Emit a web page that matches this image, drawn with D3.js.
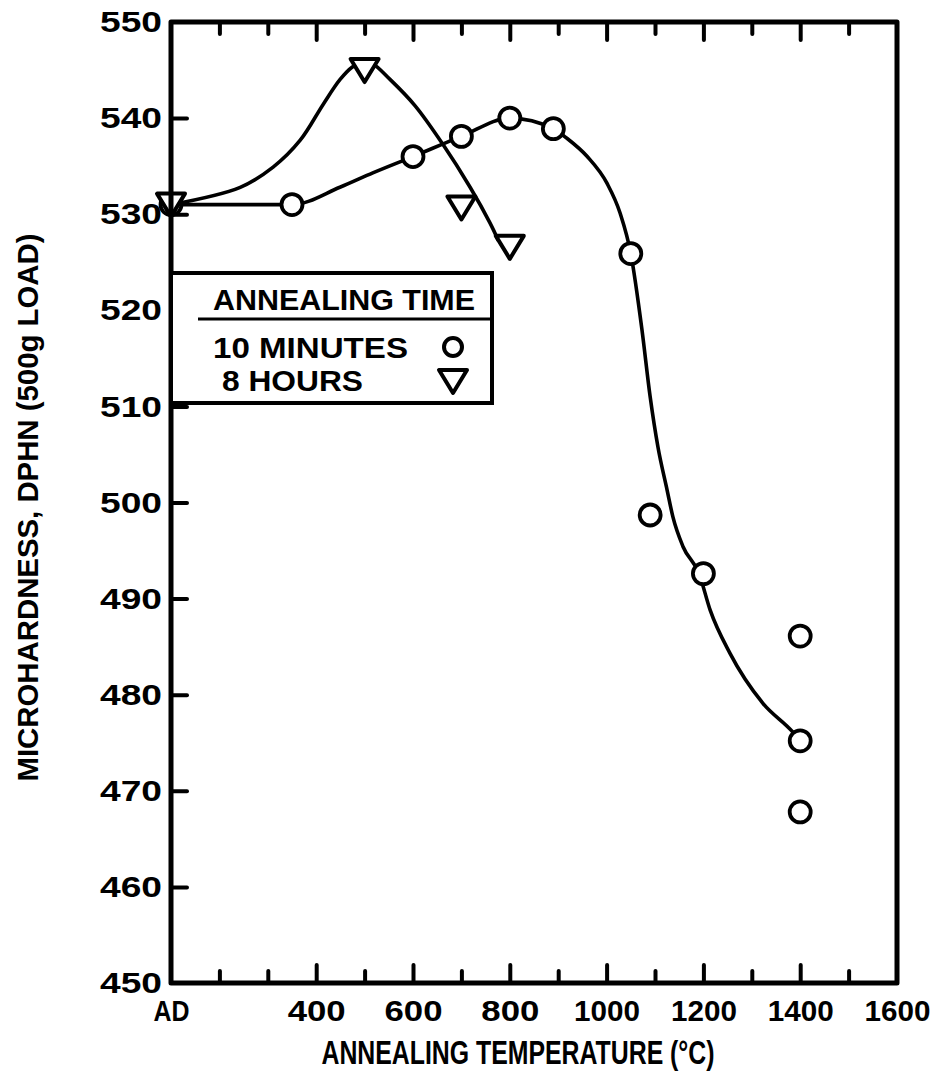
<!DOCTYPE html>
<html>
<head>
<meta charset="utf-8">
<script src="https://cdn.jsdelivr.net/npm/d3@7"></script>
<style>
  html, body { margin: 0; padding: 0; background: #fff; }
  svg text { font-family: "Liberation Sans", Arial, sans-serif; font-weight: bold; fill: #000; }
</style>
</head>
<body>
<svg id="chart" width="936" height="1088"></svg>
<script>
// Measured microhardness, 10-minute anneals (100 on the temperature axis = as-deposited, "AD")
const tempsMinutes = [100, 350, 600, 700, 800, 890, 1050, 1090, 1200, 1400, 1400, 1400];
const hardMinutes  = [531, 531, 536, 538.1, 540, 538.9, 525.9, 498.7, 492.6, 486.1, 475.2, 467.8];

// Measured microhardness, 8-hour anneals
const tempsHours = [100, 500, 700, 800];
const hardHours  = [531, 545, 530.7, 526.6];

// Hand-faired trend curve through the 10-minute data
const fitTempsMinutes = [100, 350, 449, 517, 600, 700, 800, 890, 918, 960, 1001, 1028, 1050, 1073, 1090, 1106, 1125, 1137, 1158, 1191, 1214, 1255, 1323, 1385, 1400];
const fitHardMinutes  = [531, 531, 532.8, 534.3, 536, 538.1, 540, 538.9, 537.9, 536, 533.2, 530.1, 525.9, 518, 511, 505.8, 501.3, 498.5, 495.4, 492.6, 488.8, 484.3, 479.1, 476.1, 475.2];

// Hand-faired trend curve through the 8-hour data
const fitTempsHours = [100, 243, 311, 367, 414, 449, 474, 495, 515, 553, 604, 660, 718, 759, 776];
const fitHardHours  = [531, 532.8, 534.9, 537.7, 541.4, 544.0, 545.3, 545.8, 545.7, 544.0, 541.3, 537.4, 532.8, 529.1, 527.3];

// Axis ticks and labels
const xLabelValues = [100, 400, 600, 800, 1000, 1200, 1400, 1600];
const xLabelText   = ["AD", "400", "600", "800", "1000", "1200", "1400", "1600"];
const xMajorTicks  = [400, 600, 800, 1000, 1200, 1400];
const xMinorTicks  = [200, 300, 500, 700, 900, 1100, 1300, 1500];
const yLabelValues = [450, 460, 470, 480, 490, 500, 510, 520, 530, 540, 550];
const yTickValues  = [460, 470, 480, 490, 500, 510, 520, 530, 540];

const xTitle = "ANNEALING TEMPERATURE (\u00B0C)";
const yTitle = "MICROHARDNESS, DPHN (500g LOAD)";
const legendTitle  = "ANNEALING TIME";
const legendLabels = ["10 MINUTES", "8 HOURS"];

const svg = d3.select("#chart");

const x = d3.scaleLinear().domain([100, 1600]).range([171, 897]);
const y = d3.scaleLinear().domain([450, 550]).range([983, 22]);

const INK = "#000";

function styleAxis(g, tickWidth) {
  g.select(".domain").remove();
  g.selectAll(".tick line").attr("stroke", INK).attr("stroke-width", tickWidth).attr("stroke-linecap", "round");
}

// --- tick marks (pointing into the plot) ---
svg.append("g").attr("transform", `translate(0,${y(450)})`)
  .call(d3.axisBottom(x).tickValues(xMajorTicks).tickSize(-18).tickFormat(""))
  .call(styleAxis, 4);
svg.append("g").attr("transform", `translate(0,${y(450)})`)
  .call(d3.axisBottom(x).tickValues(xMinorTicks).tickSize(-12).tickFormat(""))
  .call(styleAxis, 4);
svg.append("g").attr("transform", `translate(0,${y(550)})`)
  .call(d3.axisTop(x).tickValues(xMajorTicks).tickSize(-18).tickFormat(""))
  .call(styleAxis, 4);
svg.append("g").attr("transform", `translate(0,${y(550)})`)
  .call(d3.axisTop(x).tickValues(xMinorTicks).tickSize(-12).tickFormat(""))
  .call(styleAxis, 4);
svg.append("g").attr("transform", `translate(${x(100)},0)`)
  .call(d3.axisLeft(y).tickValues(yTickValues).tickSize(-16).tickFormat(""))
  .call(styleAxis, 4);

// --- tick labels ---
const xLab = svg.append("g").attr("transform", `translate(0,${y(450)})`)
  .call(d3.axisBottom(x).tickValues(xLabelValues).tickSize(0).tickPadding(17)
    .tickFormat((d, i) => xLabelText[i]));
xLab.select(".domain").remove();
xLab.selectAll("text")
  .attr("font-size", 30).attr("font-family", null)
  .attr("textLength", (d, i) => xLabelText[i] === "AD" ? 36 : (xLabelText[i].length === 4 ? 66 : 58))
  .attr("lengthAdjust", "spacingAndGlyphs");

const yLab = svg.append("g").attr("transform", `translate(${x(100)},0)`)
  .call(d3.axisLeft(y).tickValues(yLabelValues).tickSize(0).tickPadding(9));
yLab.select(".domain").remove();
yLab.selectAll("text")
  .attr("font-size", 30).attr("font-family", null)
  .attr("textLength", 62).attr("lengthAdjust", "spacingAndGlyphs");

// --- axis titles ---
svg.append("text")
  .attr("x", 518).attr("y", 1064)
  .attr("text-anchor", "middle").attr("font-size", 34)
  .attr("textLength", 393).attr("lengthAdjust", "spacingAndGlyphs")
  .text(xTitle);

svg.append("text")
  .attr("transform", `translate(38,${(y(450) + y(550)) / 2 + 5}) rotate(-90)`)
  .attr("text-anchor", "middle").attr("font-size", 29)
  .attr("textLength", 548).attr("lengthAdjust", "spacingAndGlyphs")
  .text(yTitle);

// --- trend curves ---
const lineMinutes = d3.line()
  .x(d => x(d[0])).y(d => y(d[1]))
  .curve(d3.curveMonotoneX);
const lineHours = d3.line()
  .x(d => x(d[0])).y(d => y(d[1]))
  .curve(d3.curveCatmullRom.alpha(0.5));

const fitMinutes = d3.zip(fitTempsMinutes, fitHardMinutes);
const fitHours   = d3.zip(fitTempsHours, fitHardHours);

svg.append("path").datum(fitMinutes).attr("d", lineMinutes)
  .attr("fill", "none").attr("stroke", INK).attr("stroke-width", 3.6)
  .attr("stroke-linecap", "round").attr("stroke-linejoin", "round");
svg.append("path").datum(fitHours).attr("d", lineHours)
  .attr("fill", "none").attr("stroke", INK).attr("stroke-width", 3.6)
  .attr("stroke-linecap", "round").attr("stroke-linejoin", "round");

// --- markers ---
const triPath = "M-14,-11L14,-11L0,12Z";

svg.append("g").selectAll("circle")
  .data(d3.zip(tempsMinutes, hardMinutes))
  .join("circle")
  .attr("cx", d => x(d[0])).attr("cy", d => y(d[1])).attr("r", 10.5)
  .attr("fill", "#fff").attr("stroke", INK).attr("stroke-width", 3.8);

svg.append("g").selectAll("path")
  .data(d3.zip(tempsHours, hardHours))
  .join("path")
  .attr("transform", d => `translate(${x(d[0])},${y(d[1])})`)
  .attr("d", triPath)
  .attr("fill", "#fff").attr("stroke", INK).attr("stroke-width", 4)
  .attr("stroke-linejoin", "round");

// --- frame ---
svg.append("rect")
  .attr("x", x(100)).attr("y", y(550))
  .attr("width", x(1600) - x(100)).attr("height", y(450) - y(550))
  .attr("fill", "none").attr("stroke", INK).attr("stroke-width", 5)
  .attr("stroke-linejoin", "round");

// --- legend ---
const leg = svg.append("g");
leg.append("rect")
  .attr("x", x(100)).attr("y", 273).attr("width", 321).attr("height", 130)
  .attr("fill", "#fff").attr("stroke", INK).attr("stroke-width", 4);
leg.append("text").attr("x", 213).attr("y", 310).attr("font-size", 29)
  .attr("textLength", 262).attr("lengthAdjust", "spacingAndGlyphs").text(legendTitle);
leg.append("line").attr("x1", 198).attr("x2", 490).attr("y1", 319).attr("y2", 319)
  .attr("stroke", INK).attr("stroke-width", 3);
leg.append("text").attr("x", 213).attr("y", 358).attr("font-size", 29)
  .attr("textLength", 195).attr("lengthAdjust", "spacingAndGlyphs").text(legendLabels[0]);
leg.append("text").attr("x", 222).attr("y", 391).attr("font-size", 29)
  .attr("textLength", 141).attr("lengthAdjust", "spacingAndGlyphs").text(legendLabels[1]);
leg.append("circle").attr("cx", 453).attr("cy", 347).attr("r", 9)
  .attr("fill", "#fff").attr("stroke", INK).attr("stroke-width", 4);
leg.append("path").attr("transform", "translate(453,381)").attr("d", triPath)
  .attr("fill", "#fff").attr("stroke", INK).attr("stroke-width", 4).attr("stroke-linejoin", "round");
</script>
</body>
</html>
